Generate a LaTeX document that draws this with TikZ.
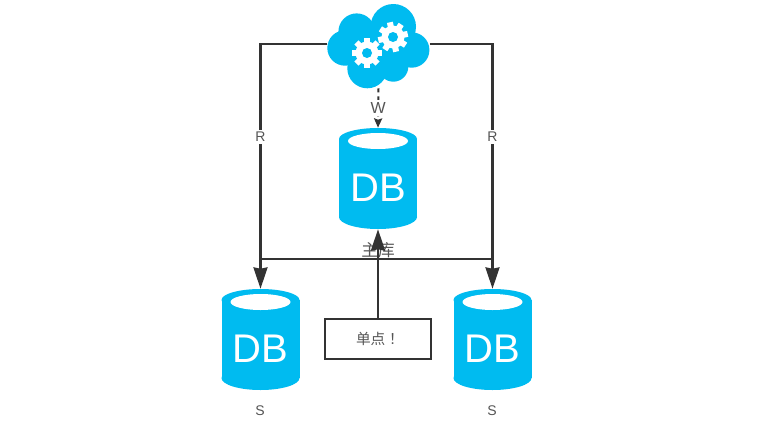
\documentclass[tikz,border=0pt]{standalone}
\usepackage{fontspec}
\setmainfont{Liberation Sans}
\newfontfamily\cjkfont{Noto Sans CJK TC}
\usetikzlibrary{positioning, shapes.geometric, arrows.meta}
\definecolor{db-color}{RGB}{0,187,240}
\definecolor{line-color}{RGB}{51,51,51}
\definecolor{label-color}{RGB}{85,85,85}
\tikzset{
  dbbody/.style={rectangle, minimum width=58.5pt, minimum height=75.75pt, inner sep=0pt},
  dbhole/.style={ellipse, fill=white, minimum width=45pt, minimum height=12pt, inner sep=0pt},
  dbtext/.style={text=white, font=\fontsize{30}{30}\selectfont, inner sep=0pt},
  lbl/.style={text=label-color, font=\fontsize{10.5}{12}\selectfont, inner sep=1.5pt},
  flow/.style={line-color, line width=1.7pt, -{Stealth[length=16pt, width=10.5pt, inset=1pt]}},
  noteblock/.style={draw=line-color, line width=1.7pt, fill=white, minimum width=80pt, minimum height=30.5pt, inner sep=0pt, text=label-color, font=\cjkfont\fontsize{11}{12}\selectfont}
}
\begin{document}
\begin{tikzpicture}[x=0.75pt, y=-0.75pt]
    \useasboundingbox (0,0) rectangle (778,425);
    \fill[white] (0,0) rectangle (778,425);

    % Cloud outline built from circles
    \foreach \cx/\cy/\cr in {393.3/26.7/22.7, 356.7/31.7/18.3, 345/48/17.7, 411.7/50/17.7, 367.3/68.3/20, 393.3/66.7/15, 378/48/24} {
        \fill[db-color] (\cx,\cy) circle (\cr);
    }
    \node[minimum width=76.5pt, minimum height=66pt, inner sep=0pt] (cloud) at (378.5,44) {};

    % Gears on the cloud
    \foreach \gx/\gy/\gr in {367/53/0, 393/37/12} {
        \fill[white] (\gx,\gy) circle (11.5);
        \foreach \a in {0,45,90,135} {
            \fill[white, rotate around={\a+\gr:(\gx,\gy)}] (\gx-3,\gy-15) rectangle (\gx+3,\gy+15);
        }
        \fill[db-color] (\gx,\gy) circle (5);
    }

    % Databases
    \foreach \name/\x/\y in {dbm/378/178.5, dbl/260.5/339.5, dbr/492.5/339.5} {
        \node[dbbody] (\name) at (\x,\y) {};
        \fill[db-color] (\x-39,\y-39.5) rectangle (\x+39,\y+38.5);
        \fill[db-color] (\x,\y-39.5) ellipse (39 and 11);
        \fill[db-color] (\x,\y+38.5) ellipse (39 and 12);
        \node[dbhole] (\name-hole) at (\x,\y-37.5) {};
        \node[dbtext] (\name-text) at (\x,\y+9) {DB};
    }

    % Labels under the databases
    \node[lbl, font=\cjkfont\fontsize{12.5}{14}\selectfont] (mainlabel) at (378,250) {主库};
    \node[lbl] (sl) at (260,411) {S};
    \node[lbl] (sr) at (492,411) {S};

    % Read lines
    \draw[flow] (cloud.west) -| node[lbl, fill=white, pos=0.69] (rl) {R} (dbl.north);
    \draw[flow] (cloud.east) -| node[lbl, fill=white, pos=0.69] (rr) {R} (dbr.north);

    % Write line
    \draw[line-color, line width=1.5pt, dashed, -{Stealth[length=7pt, width=6pt, inset=1pt]}] (cloud.south) -- node[lbl, fill=white, pos=0.5, font=\fontsize{12}{14}\selectfont] (wl) {W} (dbm.north);

    % Sync line and single point note
    \coordinate (sync) at (378,259);
    \draw[line-color, line width=1.7pt] (dbl.north |- sync) -- (dbr.north |- sync);
    \node[noteblock] (note) at (378,339) {单点！};
    \draw[flow] (note.north) -- (dbm.south);
\end{tikzpicture}
\end{document}
